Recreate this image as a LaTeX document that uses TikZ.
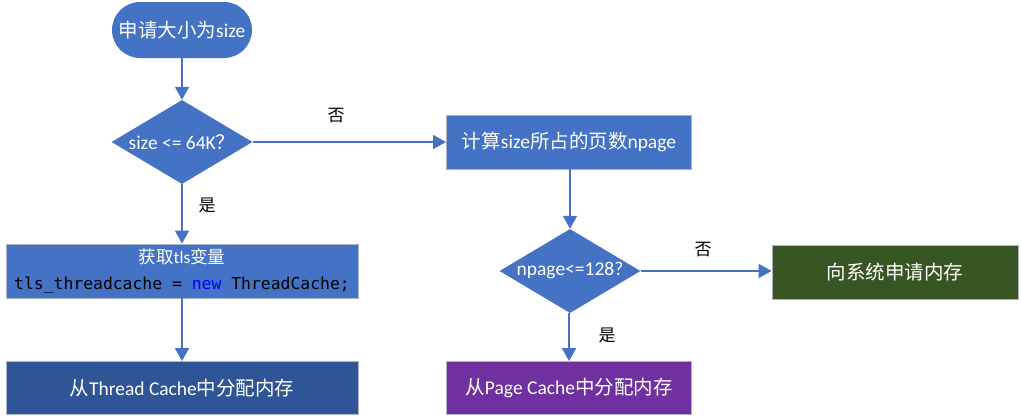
\documentclass[tikz,border=0pt]{standalone}
\usepackage{fontspec}
\setmainfont{Carlito}
\newfontfamily\cjk{Noto Sans CJK SC}
\newfontfamily\monof{DejaVu Sans Mono}
\usetikzlibrary{shapes.geometric,shapes.misc,arrows.meta}
\definecolor{obBlue}{HTML}{4472C4}
\definecolor{obDark}{HTML}{2F5597}
\definecolor{obPurple}{HTML}{7030A0}
\definecolor{obGreen}{HTML}{375623}
\definecolor{obBorder}{HTML}{A9B4C8}
\tikzset{
  base/.style={text=white, font=\fontsize{19.5}{23}\selectfont, inner sep=0pt, align=center},
  boxnode/.style={base, rectangle, draw=obBorder, line width=0.9pt, minimum height=54pt},
  termnode/.style={base, rounded rectangle, fill=obBlue, minimum width=140pt, minimum height=56pt},
  decision/.style={base, diamond, fill=obBlue, aspect=1.67, minimum width=141pt, minimum height=84pt},
  flow/.style={draw=obBlue, line width=1.8pt, -{Triangle[width=14pt,length=13pt]}},
  lbl/.style={text=black, font=\cjk\fontsize{17}{20}\selectfont, inner sep=0pt}
}
\begin{document}
\begin{tikzpicture}[x=1pt,y=-1pt]
\useasboundingbox (0,0) rectangle (1021,418);
\node[termnode] (start) at (182,30) {{\cjk 申请大小为}size};
\node[decision] (d1) at (182,142) {size <= 64K{\cjk ？}};
\node[boxnode, fill=obBlue, minimum width=245pt] (calc) at (569,142) {{\cjk 计算}size{\cjk 所占的页数}npage};
\node[boxnode, fill=obBlue, minimum width=352pt] (tls) at (182,271) {\fontsize{17.5}{21}\selectfont{\cjk 获取}tls{\cjk 变量}\\[3pt]
  \color{black}\monof\fontsize{16.4}{20}\selectfont tls\_threadcache = {\color{blue}new} ThreadCache;};
\node[decision] (d2) at (570,271) {npage<=128?};
\node[boxnode, fill=obGreen, minimum width=246pt] (sys) at (895,272) {\cjk 向系统申请内存};
\node[boxnode, fill=obDark, minimum width=352pt, minimum height=53pt] (tc) at (182,388) {{\cjk 从}Thread Cache{\cjk 中分配内存}};
\node[boxnode, fill=obPurple, minimum width=245pt, minimum height=53pt] (pc) at (569,388) {{\cjk 从}Page Cache{\cjk 中分配内存}};
\draw[flow] (start) -- (d1);
\draw[flow] (d1) -- (calc);
\draw[flow] (d1) -- (tls);
\draw[flow] (tls) -- (tc);
\draw[flow] (calc.south -| d2.north) -- (d2);
\draw[flow] (d2.east) -- (d2.east -| sys.west);
\draw[flow] (d2.south -| pc.north) -- (pc);
\node[lbl] (no1) at (336,116) {否};
\node[lbl] (yes1) at (207,205) {是};
\node[lbl] (no2) at (703,250) {否};
\node[lbl] (yes2) at (607,335) {是};
\end{tikzpicture}
\end{document}
